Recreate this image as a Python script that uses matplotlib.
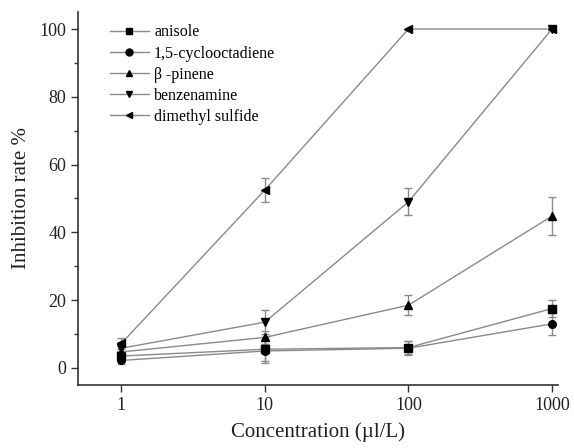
import numpy as np
import matplotlib
matplotlib.use("Agg")
import matplotlib.pyplot as plt
from matplotlib.lines import Line2D
from matplotlib.ticker import FixedLocator, NullLocator

plt.rcParams['font.family'] = ['Liberation Serif', 'DejaVu Serif']

# data
conc = [1, 10, 100, 1000]
names = ['anisole', '1,5-cyclooctadiene', 'β -pinene', 'benzenamine', 'dimethyl sulfide']
markers = ['s', 'o', '^', 'v', '<']
anisole = [3.5, 5.5, 6.0, 17.5]
anisole_err = [1.5, 3.5, 2.0, 2.5]
cyclooctadiene = [2.2, 5.0, 5.8, 13.0]
cyclooctadiene_err = [1.0, 3.5, 2.0, 3.3]
pinene = [4.7, 9.0, 18.5, 44.8]
pinene_err = [1.5, 2.0, 3.0, 5.5]
benzenamine = [5.8, 13.5, 49.0, 100.0]
benzenamine_err = [1.5, 3.5, 4.0, 0.5]
dimethyl = [7.2, 52.5, 100.0, 100.0]
dimethyl_err = [1.5, 3.5, 0.0, 0.0]

series = [anisole, cyclooctadiene, pinene, benzenamine, dimethyl]
errors = [anisole_err, cyclooctadiene_err, pinene_err, benzenamine_err, dimethyl_err]

line_col = '#8a8a8a'

fig = plt.figure(figsize=(5.74, 4.48), dpi=100)
ax = fig.add_axes([0.136, 0.141, 0.836, 0.832])

handles = []
for vals, err, m, name in zip(series, errors, markers, names):
    ax.errorbar(conc, vals, yerr=err, fmt='-' + m, color=line_col, lw=1.0,
                mfc='black', mec='black', ms=5.5, ecolor=line_col,
                elinewidth=1.0, capsize=3, capthick=1.0)
    handles.append(Line2D([], [], color=line_col, lw=1.0, marker=m, ms=5,
                          mfc='black', mec='black', label=name))

ax.set_xscale('log')
ax.set_xlim(0.5, 1100)
ax.set_ylim(-5, 105)
ax.xaxis.set_major_locator(FixedLocator(conc))
ax.xaxis.set_minor_locator(NullLocator())
ax.set_xticklabels(['1', '10', '100', '1000'])
ax.set_yticks([0, 20, 40, 60, 80, 100])
ax.yaxis.set_minor_locator(FixedLocator([10, 30, 50, 70, 90]))

for s in ['top', 'right']:
    ax.spines[s].set_visible(False)
for s in ['left', 'bottom']:
    ax.spines[s].set_linewidth(1.2)
    ax.spines[s].set_color('#333333')

ax.tick_params(axis='both', which='major', direction='out', length=5, width=1,
               labelsize=13, colors='#333333', labelcolor='#222222')
ax.tick_params(axis='y', which='minor', direction='out', length=3, width=1, colors='#333333')

ax.set_xlabel('Concentration (µl/L)', fontsize=15, color='#222222', labelpad=6)
ax.set_ylabel('Inhibition rate %', fontsize=15, color='#222222', labelpad=6)

ax.legend(handles=handles, loc='upper left', bbox_to_anchor=(0.067, 0.967),
          frameon=False, fontsize=11.5, borderaxespad=0, borderpad=0,
          handlelength=2.4, handletextpad=0.35, labelspacing=0.32)

fig.savefig('out.png', dpi=100)
